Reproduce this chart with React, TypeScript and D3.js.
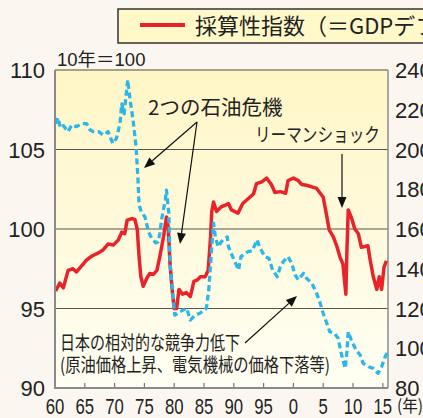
import React from 'react';
import * as d3 from 'd3';

// 採算性指数 (left axis, 2010 = 100)
const redYears = [1960.1, 1960.8, 1961.4, 1962.2, 1963.0, 1963.6, 1964.5, 1965.3, 1966.2, 1967.3, 1968.1, 1968.9, 1969.8, 1970.6, 1971.2, 1971.7, 1972.1, 1972.9, 1973.4, 1973.8, 1974.1, 1974.4, 1974.8, 1975.4, 1975.9, 1976.5, 1977.1, 1977.6, 1978.2, 1978.7, 1979.0, 1979.3, 1979.7, 1980.0, 1980.4, 1980.8, 1981.4, 1982.0, 1982.7, 1983.3, 1983.9, 1984.4, 1985.2, 1985.7, 1986.1, 1986.3, 1986.6, 1987.1, 1987.9, 1988.6, 1989.1, 1989.6, 1990.7, 1991.5, 1992.4, 1993.3, 1993.8, 1994.7, 1995.5, 1996.3, 1996.9, 1997.8, 1998.7, 1999.1, 2000.0, 2000.8, 2001.4, 2002.2, 2003.1, 2003.9, 2004.5, 2005.0, 2005.5, 2006.0, 2006.7, 2007.3, 2007.8, 2008.3, 2008.8, 2008.95, 2009.2, 2009.7, 2010.3, 2010.9, 2011.4, 2012.0, 2012.5, 2012.9, 2013.4, 2014.0, 2014.4, 2014.8, 2015.2, 2015.6];
const redValues = [96.1, 96.6, 96.3, 97.4, 97.5, 97.3, 97.7, 98.05, 98.3, 98.5, 98.7, 99.05, 99.0, 99.3, 99.8, 99.7, 100.55, 100.65, 100.6, 100.0, 98.3, 97.0, 96.4, 96.9, 97.2, 97.15, 97.4, 98.3, 99.5, 100.75, 100.1, 97.8, 96.0, 95.0, 95.0, 96.2, 95.9, 96.0, 95.75, 96.7, 96.8, 97.0, 97.0, 97.4, 99.5, 101.1, 101.7, 101.1, 101.4, 101.5, 101.6, 101.2, 101.0, 101.6, 101.9, 102.2, 102.85, 102.97, 103.2, 102.8, 102.3, 102.35, 102.25, 103.05, 103.2, 103.05, 102.8, 102.75, 102.65, 102.55, 102.25, 102.0, 101.0, 99.95, 99.5, 98.9, 98.25, 97.8, 95.9, 98.3, 101.2, 100.75, 100.0, 99.7, 98.85, 98.9, 98.95, 98.0, 97.0, 96.2, 97.0, 96.2, 97.6, 98.0];

// 交易条件 (right axis)
const blueYears = [1960.1, 1960.5, 1960.9, 1961.4, 1962.2, 1962.8, 1963.6, 1964.5, 1965.3, 1965.9, 1966.4, 1967.3, 1968.1, 1968.9, 1969.7, 1970.3, 1970.9, 1971.2, 1971.6, 1971.9, 1972.2, 1972.6, 1973.1, 1973.6, 1973.9, 1974.1, 1974.5, 1975.1, 1975.7, 1976.2, 1976.9, 1977.3, 1977.6, 1977.9, 1978.5, 1978.7, 1979.1, 1979.3, 1979.7, 1980.1, 1981.0, 1982.1, 1982.7, 1983.5, 1984.3, 1985.4, 1985.8, 1986.3, 1986.6, 1986.9, 1987.4, 1987.9, 1988.5, 1988.9, 1989.1, 1989.8, 1990.8, 1991.2, 1991.8, 1992.4, 1993.1, 1993.9, 1994.3, 1995.2, 1995.9, 1996.5, 1997.3, 1997.8, 1998.3, 1999.1, 1999.7, 2000.3, 2000.8, 2001.7, 2002.2, 2003.1, 2003.9, 2004.5, 2005.0, 2005.6, 2006.1, 2006.9, 2007.5, 2007.9, 2008.3, 2008.7, 2009.0, 2009.2, 2009.7, 2010.5, 2011.2, 2011.7, 2012.6, 2013.4, 2014.2, 2014.8, 2015.4, 2015.8];
const blueValues = [213, 216, 211, 212, 209, 212.3, 211.5, 213, 213, 209.8, 209, 209, 207.3, 209, 203, 205.6, 213, 223, 218, 226.6, 235, 225, 214.8, 201.4, 186.3, 172, 168.5, 166, 158.5, 155.5, 153, 153.6, 158, 165, 174.6, 179.6, 168, 142.7, 129.3, 116.7, 118.4, 120.1, 114.2, 116.7, 117.6, 120.1, 129.3, 151, 163, 156, 151, 153.6, 155.3, 156, 151.1, 146.1, 139.4, 146.1, 147.5, 148.6, 149, 154.5, 151.1, 146.1, 145.3, 139.4, 136, 141, 143.6, 146.1, 142.7, 136.9, 134.4, 137.7, 135.2, 132.7, 127.7, 122.6, 117.6, 112.6, 108.3, 107.5, 105, 99.1, 94.1, 89.9, 99.1, 108.3, 104.2, 99.1, 96.6, 92.4, 90.7, 89.9, 87.4, 90.7, 95.8, 98];

const xTickYears = [1960, 1965, 1970, 1975, 1980, 1985, 1990, 1995, 2000, 2005, 2010, 2015];
const xTickLabels = ['60', '65', '70', '75', '80', '85', '90', '95', '0', '5', '10', '15'];
const leftTicks = [90, 95, 100, 105, 110];
const rightTicks = [80, 100, 120, 140, 160, 180, 200, 220, 240];
const gridValues = [95, 100, 105];

const NUM_FONT = '"Liberation Sans", Arial, "Noto Sans CJK JP", sans-serif';
const JP_FONT = '"Noto Sans CJK JP", "Liberation Sans", sans-serif';

function Arrow({ x1, y1, x2, y2 }: { x1: number; y1: number; x2: number; y2: number }) {
  const ang = Math.atan2(y2 - y1, x2 - x1);
  const len = 11;
  const half = 4.5;
  const bx = x2 - len * Math.cos(ang);
  const by = y2 - len * Math.sin(ang);
  const px = -Math.sin(ang) * half;
  const py = Math.cos(ang) * half;
  return (
    <g>
      <line x1={x1} y1={y1} x2={bx} y2={by} stroke="#111" strokeWidth={1.2} />
      <path d={`M${x2},${y2}L${bx + px},${by + py}L${bx - px},${by - py}Z`} fill="#111" />
    </g>
  );
}

export default function App() {
  const W = 423;
  const H = 418;
  const left = 55, right = 388, top = 70, bottom = 388;
  const x = d3.scaleLinear().domain([1960, 2015.87]).range([left, right]);
  const yL = d3.scaleLinear().domain([90, 110]).range([bottom, top]);
  const yR = d3.scaleLinear().domain([80, 240]).range([bottom, top]);

  const redLine = d3.line<number>().x((_, i) => x(redYears[i])).y((v) => yL(v));
  const blueLine = d3.line<number>().x((_, i) => x(blueYears[i])).y((v) => yR(v));

  return (
    <svg width={W} height={H} style={{ position: 'absolute', left: 0, top: 0, display: 'block' }}>
      <defs>
        <linearGradient id="plotbg" x1="0" y1="0" x2="0" y2="1">
          <stop offset="0" stopColor="#FFF6C6" />
          <stop offset="1" stopColor="#FFFEF3" />
        </linearGradient>
        <clipPath id="plotclip">
          <rect x={left} y={top - 4} width={right - left} height={bottom - top + 4} />
        </clipPath>
      </defs>
      <rect x={0} y={0} width={W} height={H} fill="#FBF7F0" />

      {/* legend */}
      <rect x={118} y={9} width={330} height={34} fill="#FFF8C8" stroke="#333" strokeWidth={1.5} />
      <line x1={140} x2={185} y1={25} y2={25} stroke="#E8232A" strokeWidth={4} />
      <text x={195} y={33.5} fontSize={22} fontFamily={JP_FONT} fill="#222">採算性指数（＝GDPデフレーター）</text>

      {/* plot background */}
      <rect x={left} y={top} width={right - left} height={bottom - top} fill="url(#plotbg)" />

      {/* grid */}
      {gridValues.map((v) => (
        <line key={v} x1={left} x2={right} y1={yL(v)} y2={yL(v)} stroke="#555" strokeWidth={1} />
      ))}

      {/* frame */}
      <line x1={left} x2={right} y1={top} y2={top} stroke="#8C8472" strokeWidth={1.5} />
      <line x1={right} x2={right} y1={top} y2={bottom} stroke="#8C8C8C" strokeWidth={1.5} />

      {/* x ticks */}
      {xTickYears.map((yr) => (
        <line key={yr} x1={x(yr)} x2={x(yr)} y1={bottom} y2={bottom - 5} stroke="#777" strokeWidth={1.2} />
      ))}

      {/* series */}
      <g clipPath="url(#plotclip)">
        <path d={redLine(redValues) || ''} fill="none" stroke="#E8232A" strokeWidth={3.5} strokeLinejoin="round" />
        <path d={blueLine(blueValues) || ''} fill="none" stroke="#2BB7EA" strokeWidth={3.3} strokeDasharray="6,3.5" strokeLinejoin="round" />
      </g>

      <line x1={left} x2={left} y1={top} y2={bottom + 1} stroke="#8A8A8A" strokeWidth={2} />
      <line x1={left} x2={right} y1={bottom} y2={bottom} stroke="#8A8A8A" strokeWidth={2} />

      {/* left axis labels */}
      {leftTicks.map((v) => (
        <text key={v} x={45} y={yL(v) + 8} textAnchor="end" fontSize={22} fontFamily={NUM_FONT} fill="#222">{v}</text>
      ))}
      {/* right axis labels */}
      {rightTicks.map((v) => (
        <text key={v} x={395} y={yR(v) + 8} textAnchor="start" fontSize={22} fontFamily={NUM_FONT} fill="#222">{v}</text>
      ))}
      {/* x labels */}
      {xTickYears.map((yr, i) => (
        <text key={yr} transform={`translate(${x(yr)},414) scale(0.76,1)`} textAnchor="middle" fontSize={22} fontFamily={NUM_FONT} fill="#222">{xTickLabels[i]}</text>
      ))}
      <text x={397} y={412} fontSize={17} fontFamily={JP_FONT} fill="#222" textLength={26} lengthAdjust="spacingAndGlyphs">(年)</text>

      <text x={57} y={66} fontSize={18.5} fontFamily={NUM_FONT} fill="#222">10年＝100</text>

      {/* annotations */}
      <text x={148} y={115} fontSize={20.5} fontFamily={JP_FONT} fill="#222">2つの石油危機</text>
      <Arrow x1={197} y1={122} x2={144} y2={168} />
      <Arrow x1={197} y1={122} x2={180} y2={244} />

      <text x={255} y={142} fontSize={19} fontFamily={JP_FONT} fill="#222" textLength={125} lengthAdjust="spacingAndGlyphs">リーマンショック</text>
      <Arrow x1={342} y1={154} x2={342} y2={208} />

      <text x={60} y={350} fontSize={19} fontFamily={JP_FONT} fill="#222" textLength={180} lengthAdjust="spacingAndGlyphs">日本の相対的な競争力低下</text>
      <text x={60} y={372} fontSize={19} fontFamily={JP_FONT} fill="#222" textLength={270} lengthAdjust="spacingAndGlyphs">(原油価格上昇、電気機械の価格下落等)</text>
      <Arrow x1={245} y1={343} x2={297} y2={296} />
    </svg>
  );
}
